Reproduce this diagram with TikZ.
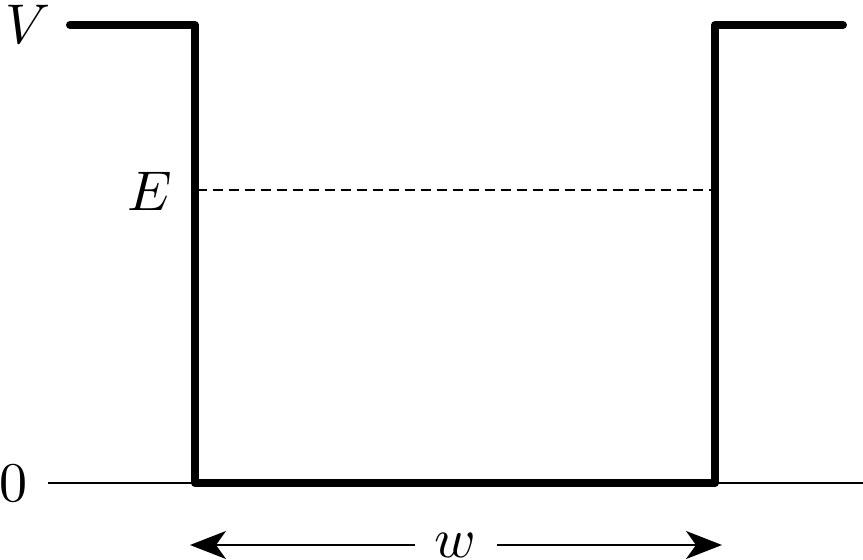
\documentclass[tikz,border=0pt]{standalone}
\usepackage{graphicx}
\usetikzlibrary{arrows.meta}
\newcommand{\biglbl}[1]{\scalebox{5.6}{$#1$}}
\begin{document}
\begin{tikzpicture}[x=1pt,y=-1pt,
  lbl/.style={inner sep=0pt,anchor=base},
  well/.style={line width=8pt,line cap=round,line join=round},
  thinline/.style={line width=2pt},
  dashline/.style={line width=2pt,dash pattern=on 10pt off 6pt},
  dimarrow/.style={line width=2pt,-{Stealth[length=36pt,width=28pt,inset=10pt]}}]
\useasboundingbox (0,0) rectangle (863,560);
% coordinates
\coordinate (TL) at (70,25);
\coordinate (CL) at (195,25);
\coordinate (BL) at (195,483);
\coordinate (BR) at (715,483);
\coordinate (CR) at (715,25);
\coordinate (TR) at (843,25);
\coordinate (ZL) at (48,483);
\coordinate (ZR) at (863,483);
\coordinate (EL) at (197,190);
\coordinate (ER) at (711,190);
\coordinate (AL) at (190,545);
\coordinate (AR) at (722,545);
% labels
\node[lbl] (V) at (28,43) {\biglbl{V}};
\node[lbl] (E) at (150,210) {\biglbl{E}};
\node[lbl] (Z) at (13,501) {\biglbl{0}};
\node[lbl] (W) at (455,557) {\biglbl{w}};
% lines
\draw[thinline] (ZL) -- (BL);
\draw[thinline] (BR) -- (ZR);
\draw[dashline] (EL) -- (ER);
\draw[well] (TL) -- (CL) -- (BL) -- (BR) -- (CR) -- (TR);
\draw[dimarrow] (415,545) -- (AL);
\draw[dimarrow] (497,545) -- (AR);
\end{tikzpicture}
\end{document}
